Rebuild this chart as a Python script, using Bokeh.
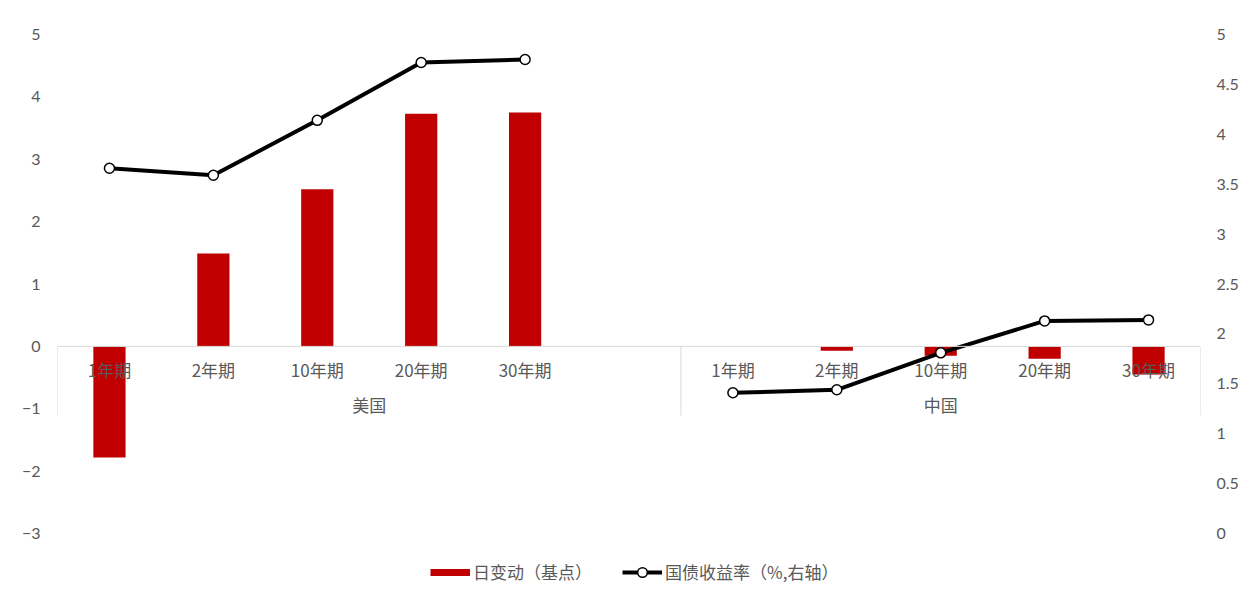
import math
from bokeh.plotting import figure
from bokeh.models import (Range1d, LinearAxis, FixedTicker, Span, Legend, LegendItem,
                          ColumnDataSource, CustomJSTickFormatter)
from bokeh.core.properties import value
from bokeh.embed import file_html
from bokeh.resources import INLINE

# ---------------- data ----------------
groups = ["美国", "中国"]
tenors = ["1年期", "2年期", "10年期", "20年期", "30年期"]
us_change = [-1.78, 1.49, 2.52, 3.73, 3.75]        # 日变动（基点）
cn_change = [0.0, -0.07, -0.15, -0.2, -0.45]
us_yield = [3.66, 3.59, 4.14, 4.72, 4.75]           # 国债收益率（%）
cn_yield = [1.41, 1.44, 1.81, 2.13, 2.14]
left_ticks = [-3, -2, -1, 0, 1, 2, 3, 4, 5]
right_ticks = [0, 0.5, 1, 1.5, 2, 2.5, 3, 3.5, 4, 4.5, 5]

# slots: 5 US tenors, one empty slot (still inside the US group), 5 CN tenors
n_us_slots = len(tenors) + 1
n_slots = n_us_slots + len(tenors)
us_x = [i + 0.5 for i in range(len(tenors))]
cn_x = [n_us_slots + i + 0.5 for i in range(len(tenors))]

bar_src = ColumnDataSource(dict(x=us_x + cn_x, y=us_change + cn_change))
line_src = ColumnDataSource(dict(x=us_x + [len(tenors) + 0.5] + cn_x,
                                 y=us_yield + [float("nan")] + cn_yield))
pt_src = ColumnDataSource(dict(x=us_x + cn_x, y=us_yield + cn_yield))
lab_src = ColumnDataSource(dict(x=us_x + cn_x, y=[0] * (2 * len(tenors)), t=tenors + tenors))
grp_src = ColumnDataSource(dict(x=[n_us_slots / 2, n_us_slots + len(tenors) / 2],
                                y=[0, 0], t=groups))
sep_src = ColumnDataSource(dict(x=[0, n_us_slots, n_slots]))

GRAY = "#595959"
RED = "#C00000"
TICK_FONT = "Lato"
CJK = "Noto Sans CJK SC"

# plotting area: value axes span 499 px (5 .. -3 and 5 .. 0); the frame is extended
# 59 px further down to hold the legend strip below the axes
AXIS_PX = 499
LEGEND_PX = 59
left_lo, left_hi = -3, 5
right_lo, right_hi = 0, 5
left_bottom = left_lo - LEGEND_PX * (left_hi - left_lo) / AXIS_PX
right_bottom = right_lo - LEGEND_PX * (right_hi - right_lo) / AXIS_PX

p = figure(frame_width=1143, frame_height=AXIS_PX + LEGEND_PX, output_backend="svg",
           toolbar_location=None,
           x_range=Range1d(0, n_slots), y_range=Range1d(left_bottom, left_hi),
           x_axis_location=None, y_axis_location="left",
           min_border_left=57, min_border_right=45, min_border_top=34, min_border_bottom=0)
p.outline_line_color = None
p.xgrid.visible = False
p.ygrid.visible = False
p.background_fill_color = "white"
p.border_fill_color = "white"

p.extra_y_ranges = {"right": Range1d(right_bottom, right_hi)}
raxis = LinearAxis(y_range_name="right")
p.add_layout(raxis, "right")

for ax, ticks, standoff in ((p.yaxis[0], left_ticks, 17), (raxis, right_ticks, 16)):
    ax.ticker = FixedTicker(ticks=ticks)
    ax.axis_line_color = None
    ax.major_tick_line_color = None
    ax.minor_tick_line_color = None
    ax.major_tick_in = 0
    ax.major_tick_out = 0
    ax.major_label_standoff = standoff
    ax.major_label_text_color = GRAY
    ax.major_label_text_font = TICK_FONT
    ax.major_label_text_font_size = "16px"
raxis.formatter = CustomJSTickFormatter(code="return String(tick)")

# category axis line at zero and group separators
p.add_layout(Span(location=0, dimension="width", line_color="#D9D9D9", line_width=1))
p.segment(x0="x", y0=0, x1="x", y1=-1.11, source=sep_src, line_color="#D9D9D9", line_width=1)

bars = p.vbar(x="x", top="y", bottom=0, width=0.31, source=bar_src,
              fill_color=RED, line_color=None)

p.text(x="x", y="y", text="t", source=lab_src, y_offset=23,
       text_align="center", text_baseline="middle", text_color=GRAY,
       text_font=value(CJK), text_font_size="17px")
p.text(x="x", y="y", text="t", source=grp_src, y_offset=58,
       text_align="center", text_baseline="middle", text_color=GRAY,
       text_font=value(CJK), text_font_size="17px")

ln = p.line(x="x", y="y", source=line_src, y_range_name="right",
            line_color="black", line_width=4)
pts = p.scatter(x="x", y="y", source=pt_src, y_range_name="right", marker="circle",
                size=10, fill_color="white", line_color="black", line_width=1.5)

# legend swatch for the bars, drawn in the thin bar-key style of the original
bar_key = p.line(x=[float("nan")], y=[float("nan")], line_color=RED, line_width=7)

legend = Legend(items=[LegendItem(label="日变动（基点）", renderers=[bar_key]),
                       LegendItem(label="国债收益率（%,右轴）", renderers=[ln, pts])],
                orientation="horizontal", location=(373, 8),
                glyph_width=40, glyph_height=24, label_standoff=3, spacing=30,
                padding=0, margin=0, border_line_color=None, background_fill_alpha=0,
                label_text_color=GRAY, label_text_font=CJK, label_text_font_size="17px")
p.add_layout(legend)

open("out.html", "w").write(file_html(p, INLINE))
